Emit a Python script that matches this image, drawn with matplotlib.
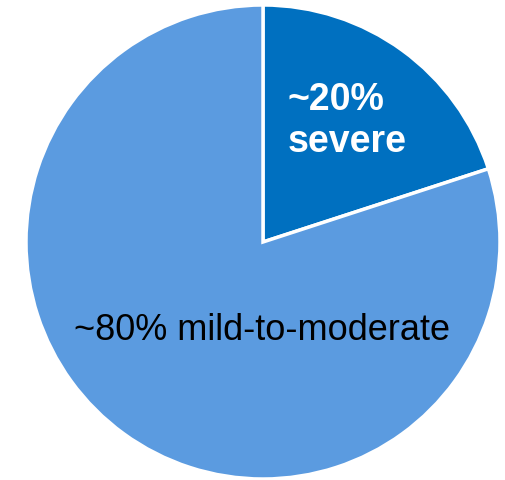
import matplotlib
matplotlib.use("Agg")
import matplotlib.pyplot as plt

categories = ["severe", "mild-to-moderate"]
values = [20, 80]
labels = ["~20%\nsevere", "~80% mild-to-moderate"]
colors = ["#0070C0", "#5B9BE0"]

W, H = 506, 481
fig = plt.figure(figsize=(W / 100, H / 100), dpi=100)
cx, cy, r = 263, 243, 237
ax = fig.add_axes([(cx - r) / W, (H - cy - r) / H, 2 * r / W, 2 * r / H])
ax.pie(values, colors=colors, startangle=90, counterclock=False, radius=1,
       wedgeprops=dict(edgecolor="white", linewidth=2.5))
ax.set_xlim(-1, 1)
ax.set_ylim(-1, 1)
ax.set_aspect("equal")
ax.axis("off")

ax.text(0.105, 0.515, labels[0], ha="left", va="center", multialignment="left",
        color="white", fontsize=27, fontweight="bold", family="Liberation Sans",
        linespacing=1.22)
ax.text(-0.004, -0.37, labels[1], ha="center", va="center", color="black",
        fontsize=26, family="Liberation Sans")

fig.savefig("out.png", dpi=100)
